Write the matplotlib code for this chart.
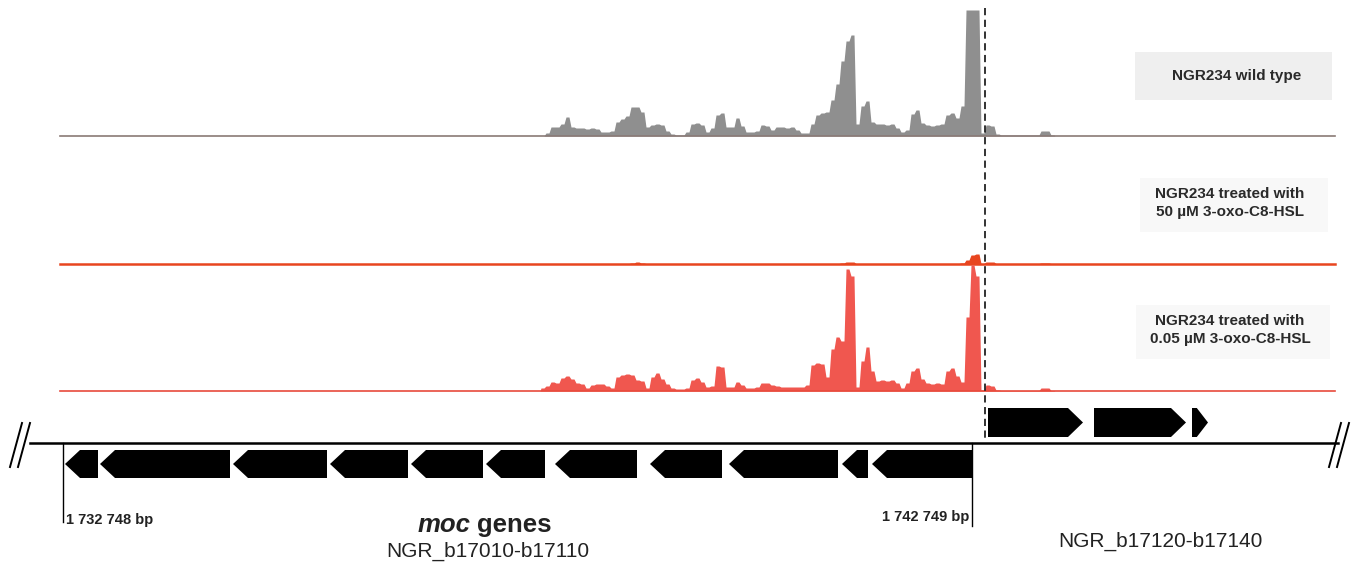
import numpy as np
import matplotlib.pyplot as plt
from matplotlib.patches import Polygon, Rectangle

plt.rcParams['font.family'] = ['Liberation Sans', 'DejaVu Sans']

W, H = 1355, 564

# genome window shown (bp)
view_start = 1732055
view_end = 1746960
track_start = 1732715
track_end = 1746740
moc_left = 1732748
moc_right = 1742749
tss_pos = 1742890

# read coverage, binned
bin_start = 1737995
bin_size = 55
wt_cov = [0, 3, 9, 9, 12, 19, 9, 8, 8, 7, 8, 7, 4, 4, 5, 14, 17, 20, 29, 29,
          24, 9, 11, 12, 11, 5, 2, 1, 1, 4, 12, 13, 11, 4, 8, 21, 23, 9, 9, 18,
          10, 4, 4, 5, 11, 10, 6, 9, 9, 8, 9, 6, 3, 3, 12, 21, 23, 24, 36, 52,
          75, 95, 101, 12, 30, 35, 14, 12, 12, 11, 12, 8, 4, 6, 22, 26, 13, 11, 10, 11,
          12, 21, 23, 18, 30, 126, 126, 126, 3, 11, 10, 2, 1, 1, 1, 1, 1, 1, 1, 1,
          5, 5, 1]
high_cov = [0.5, 0.5, 0.5, 0.5, 0.5, 0.5, 0.5, 0.5, 0.5, 0.5, 0.5, 0.5, 0.5, 0.5, 0.5, 0.5, 0.5, 0.5, 1, 2,
            1, 0.5, 0.5, 0.5, 0.5, 0.5, 0.5, 0.5, 0.5, 0.5, 0.5, 0.5, 0.5, 0.5, 0.5, 0.5, 0.5, 0.5, 0.5, 0.5,
            0.5, 0.5, 0.5, 0.5, 0.5, 0.5, 0.5, 0.5, 0.5, 0.5, 0.5, 0.5, 0.5, 0.5, 0.5, 0.5, 0.5, 0.5, 0.5, 0.5,
            1, 2, 2, 0.5, 0.5, 0.5, 0.5, 0.5, 0.5, 0.5, 0.5, 0.5, 0.5, 0.5, 0.5, 0.5, 0.5, 0.5, 0.5, 0.5,
            0.5, 0.5, 0.5, 0.5, 1, 4, 9, 10, 0.5, 2, 2, 0.5, 0.5, 0.5, 0.5, 0.5, 0.5, 0.5, 0.5, 0.5,
            1, 1, 0.5]
low_cov = [3, 5, 9, 8, 13, 15, 12, 8, 7, 3, 6, 7, 7, 5, 3, 14, 16, 17, 16, 11,
           10, 3, 14, 18, 12, 7, 3, 2, 2, 3, 11, 13, 9, 4, 5, 25, 24, 4, 4, 9,
           6, 3, 3, 4, 8, 8, 6, 5, 4, 4, 4, 4, 4, 6, 26, 28, 27, 14, 42, 54,
           50, 122, 115, 4, 30, 44, 20, 10, 11, 10, 11, 8, 3, 8, 20, 23, 12, 8, 7, 8,
           7, 20, 23, 15, 9, 74, 126, 115, 1, 6, 5, 1, 0.5, 0.5, 0.5, 0.5, 0.5, 0.5, 0.5, 0.5,
           3, 3, 0.5]

# genes (bp)
moc_start = [1732770, 1733155, 1734618, 1735685, 1736576, 1737401,
             1738160, 1739205, 1740074, 1741317, 1741647]
moc_end = [1733133, 1734585, 1735652, 1736543, 1737368, 1738050,
           1739062, 1739997, 1741273, 1741603, 1742749]
fwd_start = [1742923, 1744089, 1745167]
fwd_end = [1743968, 1745101, 1745343]

track_names = ['NGR234 wild type',
               'NGR234 treated with\n50 µM 3-oxo-C8-HSL',
               'NGR234 treated with\n0.05 µM 3-oxo-C8-HSL']

fig = plt.figure(figsize=(W / 100, H / 100), dpi=100)


def track_axes(base_px):
    ax = fig.add_axes([0, 1 - base_px / H, 1, 128 / H])
    ax.set_xlim(view_start, view_end)
    ax.set_ylim(0, 128)
    ax.axis('off')
    return ax


# each bin drawn flat over its middle, with short ramps between bins
left = bin_start + bin_size * np.arange(len(wt_cov))
xs = np.column_stack([left + 0.2 * bin_size, left + 0.8 * bin_size]).ravel()
xs = np.r_[bin_start, xs, bin_start + bin_size * len(wt_cov)]


def coverage(ax, cov, color):
    ys = np.r_[0, np.repeat(cov, 2), 0]
    ax.fill_between(xs, ys, 0, color=color, linewidth=0)


# wild type
ax1 = track_axes(136)
coverage(ax1, wt_cov, '#8f8f8f')
ax1.plot([track_start, track_end], [0, 0], color='#8a7a76', lw=1.2, clip_on=False)

# 50 uM
ax2 = track_axes(264)
coverage(ax2, high_cov, '#e8451f')
ax2.plot([track_start, track_end], [0, 0], color='#e8451f', lw=1.8, clip_on=False)

# 0.05 uM
ax3 = track_axes(391)
coverage(ax3, low_cov, '#f0574f')
ax3.plot([track_start, track_end], [0, 0], color='#e84a3c', lw=1.2, clip_on=False)

# gene map, x in bp, y in figure pixels
axg = fig.add_axes([0, 0, 1, 1])
axg.set_xlim(view_start, view_end)
axg.set_ylim(H, 0)
axg.axis('off')
axg.patch.set_alpha(0)

head = 165


def gene(s, e, top, bot, forward):
    h = min(head, 0.7 * (e - s))
    mid = (top + bot) / 2
    if forward:
        pts = [(s, top), (e - h, top), (e, mid), (e - h, bot), (s, bot)]
    else:
        pts = [(e, top), (s + h, top), (s, mid), (s + h, bot), (e, bot)]
    axg.add_patch(Polygon(pts, closed=True, color='black', lw=0))


for s, e in zip(moc_start, moc_end):
    gene(s, e, 450, 478, False)
for s, e in zip(fwd_start, fwd_end):
    gene(s, e, 408, 437, True)

axg.plot([moc_left, moc_left], [443, 522], color='black', lw=1)
axg.plot([moc_right, moc_right], [443, 526], color='black', lw=1)
axg.plot([tss_pos, tss_pos], [8, 441], color='#222222', lw=1.3, ls=(0, (4, 2.5)))

# layout overlay in pixels
axp = fig.add_axes([0, 0, 1, 1])
axp.set_xlim(0, W)
axp.set_ylim(H, 0)
axp.axis('off')
axp.patch.set_alpha(0)

axp.plot([30, 1338], [443, 443], color='black', lw=1.8)
for x0 in (10, 18, 1329, 1337):
    axp.plot([x0, x0 + 12], [467, 423], color='black', lw=1.4)

axp.add_patch(Rectangle((1135, 52), 197, 48, color='#efefef', lw=0, zorder=0))
axp.add_patch(Rectangle((1140, 178), 188, 54, color='#f8f8f8', lw=0, zorder=0))
axp.add_patch(Rectangle((1136, 305), 194, 54, color='#f8f8f8', lw=0, zorder=0))

axp.text(1237, 76, track_names[0], ha='center', va='center', fontsize=11, fontweight='bold', color='#2a2a2a')
axp.text(1230, 203, track_names[1], ha='center', va='center', fontsize=11, fontweight='bold',
         color='#2a2a2a', linespacing=1.3)
axp.text(1230, 330, track_names[2], ha='center', va='center', fontsize=11, fontweight='bold',
         color='#2a2a2a', linespacing=1.3)

axp.text(66, 520, '1 732 748 bp', ha='left', va='center', fontsize=10.5, fontweight='bold', color='#222222')
axp.text(969, 517, '1 742 749 bp', ha='right', va='center', fontsize=10.5, fontweight='bold', color='#222222')

axp.text(471, 532, 'moc', ha='right', va='baseline', fontsize=18.5, fontweight='bold', fontstyle='italic', color='#222222')
axp.text(477, 532, 'genes', ha='left', va='baseline', fontsize=18.5, fontweight='bold', color='#222222')
axp.text(488, 551, 'NGR_b17010-b17110', ha='center', va='center', fontsize=15, color='#222222')
axp.text(1160, 541, 'NGR_b17120-b17140', ha='center', va='center', fontsize=15, color='#222222')

fig.savefig('out.png', dpi=100)
